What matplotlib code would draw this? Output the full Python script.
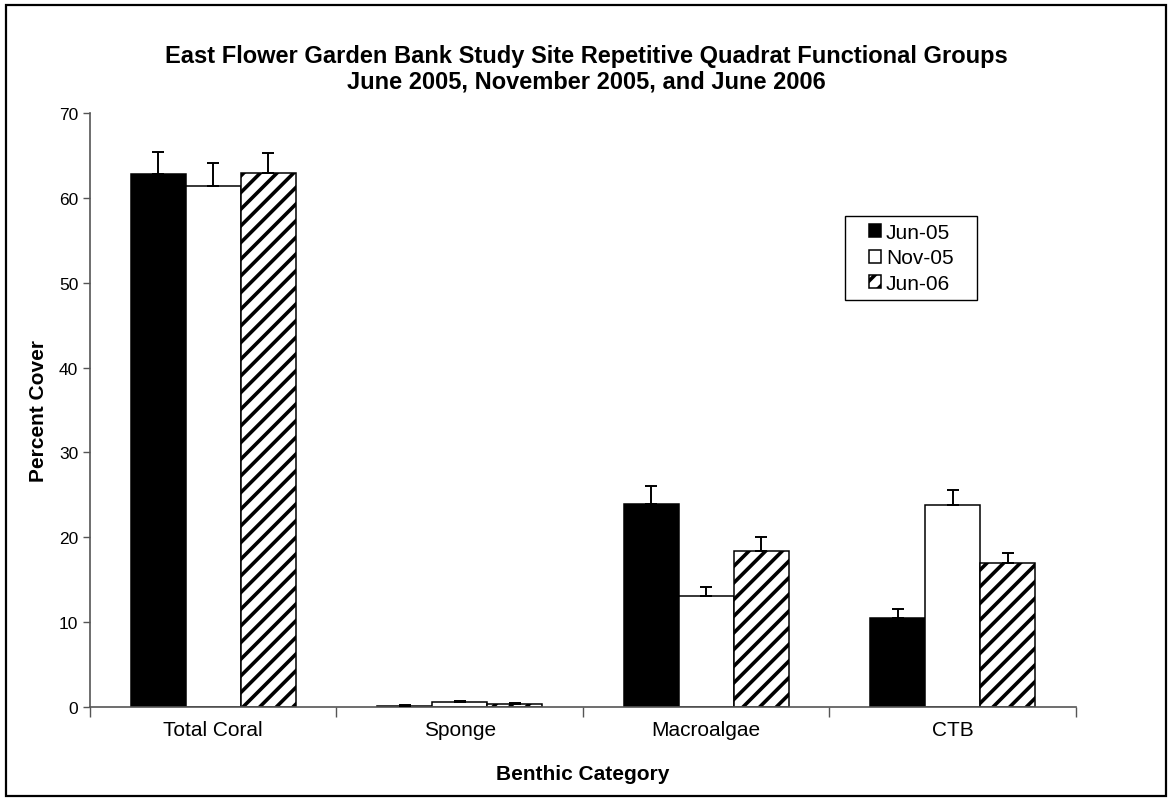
import matplotlib
matplotlib.use("Agg")
import matplotlib.pyplot as plt
from matplotlib.patches import Rectangle
import numpy as np

plt.rcParams['font.family'] = ['Liberation Sans', 'DejaVu Sans']
plt.rcParams['hatch.linewidth'] = 2.6

categories = ['Total Coral', 'Sponge', 'Macroalgae', 'CTB']
surveys = ['Jun-05', 'Nov-05', 'Jun-06']
jun05 = [62.8, 0.15, 23.9, 10.5]
nov05 = [61.4, 0.55, 13.1, 23.8]
jun06 = [62.9, 0.35, 18.4, 17.0]
jun05_err = [2.6, 0.05, 2.1, 1.1]
nov05_err = [2.7, 0.2, 1.0, 1.8]
jun06_err = [2.4, 0.15, 1.6, 1.2]

fig = plt.figure(figsize=(11.72, 8.03), dpi=100)
ax = fig.add_axes([0.0768, 0.1183, 0.8412, 0.7397])

# outer frame around the whole chart
fig.patches.append(Rectangle((0.005, 0.007), 0.99, 0.986, transform=fig.transFigure,
                             fill=False, edgecolor='black', linewidth=1.6))

x = np.arange(len(categories))
w = 0.223
styles = [dict(color='black', edgecolor='black'),
          dict(color='white', edgecolor='black'),
          dict(color='white', edgecolor='black', hatch='//')]
values = [jun05, nov05, jun06]
errors = [jun05_err, nov05_err, jun06_err]
for i, (vals, errs, st, lab) in enumerate(zip(values, errors, styles, surveys)):
    pos = x + (i - 1) * w
    ax.bar(pos, vals, w, linewidth=1.1, label=lab, zorder=2, **st)
    ax.errorbar(pos, vals, yerr=[np.zeros(len(vals)), errs], fmt='none',
                ecolor='black', elinewidth=1.4, capsize=4, capthick=1.4, zorder=3)

ax.set_xlim(-0.5, 3.5)
ax.set_ylim(0, 70)
ax.set_yticks(range(0, 71, 10))
ax.tick_params(axis='y', labelsize=12.5, length=5, color='#555555', width=1)

# category ticks sit between the groups, labels centred on the groups
ax.set_xticks(np.arange(-0.5, 4, 1))
ax.set_xticklabels([])
ax.set_xticks(x, minor=True)
ax.set_xticklabels(categories, minor=True, fontsize=15)
ax.tick_params(axis='x', which='major', length=7, color='#555555', width=1)
ax.tick_params(axis='x', which='minor', length=0, pad=9)

for s in ['top', 'right']:
    ax.spines[s].set_visible(False)
for s in ['left', 'bottom']:
    ax.spines[s].set_color('#555555')
    ax.spines[s].set_linewidth(1.2)

ax.set_ylabel('Percent Cover', fontsize=15, fontweight='bold', labelpad=7.5)
ax.set_xlabel('Benthic Category', fontsize=15, fontweight='bold', labelpad=18)

fig.text(0.5, 0.930, 'East Flower Garden Bank Study Site Repetitive Quadrat Functional Groups',
         ha='center', va='center', fontsize=17, fontweight='bold')
fig.text(0.5, 0.898, 'June 2005, November 2005, and June 2006',
         ha='center', va='center', fontsize=17, fontweight='bold')

# legend box with wide side margins
box = (0.766, 0.685, 0.1336, 0.142)
ax.add_patch(Rectangle(box[:2], box[2], box[3], transform=ax.transAxes, fill=False,
                       edgecolor='black', linewidth=1.0, zorder=4, clip_on=False))
leg = ax.legend(loc='center', bbox_to_anchor=(box[0] + box[2] / 2, box[1] + box[3] / 2),
                fontsize=15, handlelength=0.58, handleheight=0.58, handletextpad=0.25,
                frameon=False, borderpad=0, borderaxespad=0, labelspacing=0.3)

fig.savefig('out.png', dpi=100)
